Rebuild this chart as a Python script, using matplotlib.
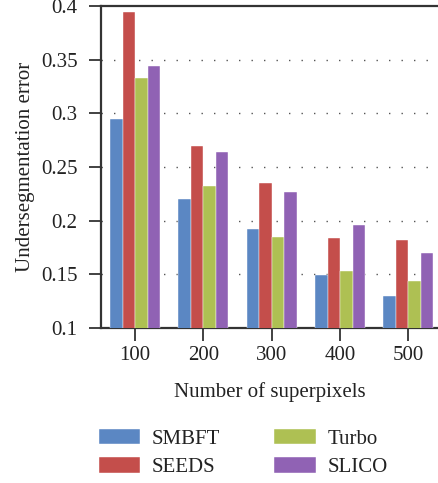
'''grouped bar chart of undersegmentation error vs number of superpixels'''
import numpy as np
import matplotlib
matplotlib.use('Agg')
import matplotlib.pyplot as plt

# data
superpixels = ['100', '200', '300', '400', '500']
methods = ['SMBFT', 'SEEDS', 'Turbo', 'SLICO']
smbft = [0.295, 0.220, 0.192, 0.149, 0.130]
seeds = [0.394, 0.270, 0.235, 0.184, 0.182]
turbo = [0.333, 0.232, 0.185, 0.153, 0.144]
slico = [0.344, 0.264, 0.227, 0.196, 0.170]
yticks = [0.1, 0.15, 0.2, 0.25, 0.3, 0.35, 0.4]
ytick_labels = ['0.1', '0.15', '0.2', '0.25', '0.3', '0.35', '0.4']

colors = ['#5B87C3', '#C44E4B', '#AEC053', '#9062B4']

plt.rcParams['font.family'] = ['Liberation Serif', 'DejaVu Serif']
plt.rcParams['font.size'] = 15

fig = plt.figure(figsize=(4.38, 4.83), dpi=100)
ax = fig.add_axes([0.2306, 0.321, 0.7694, 0.6666])

x = np.arange(len(superpixels))
width = 0.183
series = [smbft, seeds, turbo, slico]
for i, (name, vals) in enumerate(zip(methods, series)):
    offset = (i - 1.5) * width
    ax.bar(x + offset, vals, width, color=colors[i], label=name, zorder=3,
           edgecolor='white', linewidth=0.3)

ax.set_xlim(-0.5, 4.435)
ax.set_ylim(0.1, 0.4)
ax.set_xticks(x)
ax.set_xticklabels(superpixels)
ax.set_yticks(yticks)
ax.set_yticklabels(ytick_labels)

# dotted grid
for yv in yticks[1:-1]:
    ax.axhline(yv, color='#555555', linestyle=(0, (1, 8)), linewidth=1.0, zorder=1)

for side in ['left', 'bottom', 'top']:
    ax.spines[side].set_color('#333333')
    ax.spines[side].set_linewidth(1.6)
ax.spines['right'].set_visible(False)
ax.tick_params(axis='both', direction='out', length=9, width=1.3, color='#333333',
               labelcolor='#222222')
ax.tick_params(axis='x', pad=4)
ax.tick_params(axis='y', pad=8)

ax.set_xlabel('Number of superpixels', labelpad=12, color='#222222')
ax.set_ylabel('Undersegmentation error', labelpad=4, color='#222222')

leg = fig.legend(loc='lower center', bbox_to_anchor=(0.555, -0.027), ncol=2,
                 frameon=False, handlelength=2.0, handleheight=0.8,
                 columnspacing=2.6, handletextpad=0.55, labelspacing=0.4)
for t in leg.get_texts():
    t.set_color('#222222')

fig.savefig('out.png', dpi=100)
